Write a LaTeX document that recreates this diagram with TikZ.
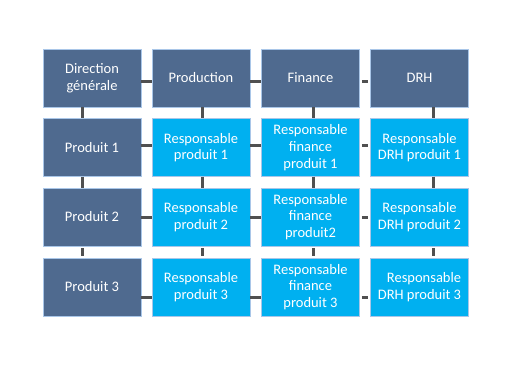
\documentclass[tikz,border=0pt]{standalone}
\usepackage{fontspec}
\setmainfont{Carlito}
\definecolor{darkbox}{HTML}{4F6A8F}
\definecolor{lightbox}{HTML}{00B0F0}
\definecolor{boxedge}{HTML}{A9C6E8}
\definecolor{linkgray}{HTML}{505050}
\tikzset{
	box/.style={draw=boxedge, line width=0.5pt, minimum width=98pt, minimum height=58pt,
		inner sep=0pt, text=white, align=center, font=\fontsize{14.5}{16.7}\selectfont},
	head/.style={box, fill=darkbox},
	resp/.style={box, fill=lightbox},
	link/.style={linkgray, line width=3pt, shorten >=2pt, shorten <=2pt}
}
\begin{document}
\begin{tikzpicture}
			[x=1pt, y=1pt]
			\useasboundingbox (0,0) rectangle (507,380);
			% row 1
			\node[head] (a1) at (92,302) {Direction\\générale};
			\node[head] (a2) at (201,302) {Production};
			\node[head] (a3) at (310.5,302) {Finance};
			\node[head] (a4) at (419.5,302) {DRH};
			% row 2
			\node[head] (b1) at (92,232.5) {Produit 1};
			\node[resp] (b2) at (201,232.5) {Responsable\\produit 1};
			\node[resp] (b3) at (310.5,232.5) {Responsable\\finance\\produit 1};
			\node[resp] (b4) at (419.5,232.5) {Responsable\\DRH produit 1};
			% row 3
			\node[head] (c1) at (92,163) {Produit 2};
			\node[resp] (c2) at (201,163) {Responsable\\produit 2};
			\node[resp] (c3) at (310.5,163) {Responsable\\finance\\produit2};
			\node[resp] (c4) at (419.5,163) {Responsable\\DRH produit 2};
			% row 4
			\node[head] (d1) at (92,93) {Produit 3};
			\node[resp] (d2) at (201,93) {Responsable\\produit 3};
			\node[resp] (d3) at (310.5,93) {Responsable\\finance\\produit 3};
			\node[resp, align=right] (d4) at (419.5,93) {Responsable\\DRH produit 3};
			% links along the rows
			\draw[link] ([yshift=-4pt]a1.east) -- ([yshift=-4pt]a2.west)
				([yshift=-4pt]a2.east) -- ([yshift=-4pt]a3.west)
				([yshift=-4pt]a3.east) -- ([yshift=-4pt]a4.west);
			\draw[link] ([yshift=1.5pt]b1.east) -- ([yshift=1.5pt]b2.west)
				([yshift=1.5pt]b2.east) -- ([yshift=1.5pt]b3.west)
				([yshift=1.5pt]b3.east) -- ([yshift=1.5pt]b4.west);
			\draw[link] ([yshift=-1pt]c1.east) -- ([yshift=-1pt]c2.west)
				([yshift=-1pt]c2.east) -- ([yshift=-1pt]c3.west)
				([yshift=-1pt]c3.east) -- ([yshift=-1pt]c4.west);
			\draw[link] ([yshift=-11pt]d1.east) -- ([yshift=-11pt]d2.west)
				([yshift=-11pt]d2.east) -- ([yshift=-11pt]d3.west)
				([yshift=-11pt]d3.east) -- ([yshift=-11pt]d4.west);
			% links down the columns
			\draw[link] ([xshift=-10pt]a1.south) -- ([xshift=-10pt]b1.north)
				([xshift=-10pt]b1.south) -- ([xshift=-10pt]c1.north)
				([xshift=-10pt]c1.south) -- ([xshift=-10pt]d1.north);
			\draw[link] ([xshift=1pt]a2.south) -- ([xshift=1pt]b2.north)
				([xshift=1pt]b2.south) -- ([xshift=1pt]c2.north)
				([xshift=1pt]c2.south) -- ([xshift=1pt]d2.north);
			\draw[link] ([xshift=2.5pt]a3.south) -- ([xshift=2.5pt]b3.north)
				([xshift=2.5pt]b3.south) -- ([xshift=2.5pt]c3.north)
				([xshift=2.5pt]c3.south) -- ([xshift=2.5pt]d3.north);
			\draw[link] ([xshift=13.5pt]a4.south) -- ([xshift=13.5pt]b4.north)
				([xshift=13.5pt]b4.south) -- ([xshift=13.5pt]c4.north)
				([xshift=13.5pt]c4.south) -- ([xshift=13.5pt]d4.north);
		\end{tikzpicture}
\end{document}
